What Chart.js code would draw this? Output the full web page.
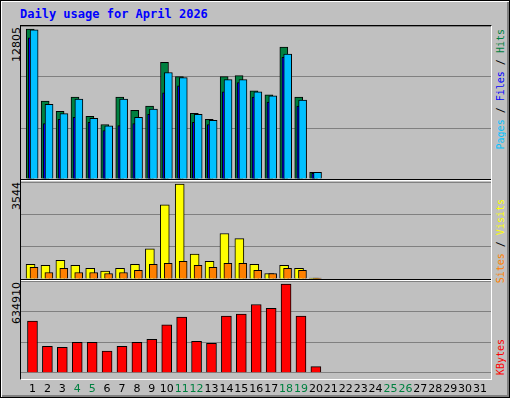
<!DOCTYPE html>
<html>
<head>
<meta charset="utf-8">
<script src="https://cdn.jsdelivr.net/npm/chart.js@4"></script>
<style>
  body { margin: 0; background: #fff; }
  #frame {
    position: absolute; left: 0; top: 0; width: 508px; height: 396px;
    background: #c0c0c0; border: 1px solid #000;
    box-shadow: inset 1px 1px 0 #fff, inset -2px -2px 0 #808080;
  }
  #box {
    position: absolute; left: 20px; top: 25px; width: 470px; height: 353px;
    border-top: 1px solid #000; border-left: 1px solid #000;
    border-right: 1px solid #fff; border-bottom: 1px solid #fff;
  }
  .div { position: absolute; left: 21px; width: 470px; height: 1px; background: #000; border-bottom: 1px solid #fff; }
  canvas { position: absolute; }
  .vt { position: absolute; writing-mode: vertical-rl; transform: rotate(180deg); white-space: nowrap; }
  #title { position: absolute; left: 20px; top: 7px; font: bold 12px "DejaVu Sans Mono", monospace; color: #0000ff; }
</style>
</head>
<body>
<div id="frame"></div>
<div id="box"></div>
<div class="div" style="top:179px"></div>
<div class="div" style="top:279px"></div>
<div id="title">Daily usage for April 2026</div>

<div class="vt" id="yTop" style="left:10px; top:27px; font:11px 'DejaVu Sans'"></div>
<div class="vt" id="yMid" style="left:10px; top:182px; font:11px 'DejaVu Sans'"></div>
<div class="vt" id="yBot" style="left:10px; top:282px; font:11px 'DejaVu Sans'"></div>

<div class="vt" style="left:495px; top:29px; font:10px 'DejaVu Sans Mono'">
  <span style="color:#00c0ff">Pages</span><span> / </span><span style="color:#0000ff">Files</span><span> / </span><span style="color:#008040">Hits</span>
</div>
<div class="vt" style="left:495px; top:199px; font:10px 'DejaVu Sans Mono'">
  <span style="color:#ff8000">Sites</span><span> / </span><span style="color:#ffff00">Visits</span>
</div>
<div class="vt" style="left:495px; top:339px; font:10px 'DejaVu Sans Mono'">
  <span style="color:#ff0000">KBytes</span>
</div>

<canvas id="cTop" style="left:21px; top:26px; width:470px; height:153px"></canvas>
<canvas id="cMid" style="left:21px; top:182px; width:470px; height:97px"></canvas>
<canvas id="cBot" style="left:21px; top:281px; width:470px; height:117px"></canvas>

<script>
// Daily stats, April 2026 (days 1..20 have data)
const days = [1,2,3,4,5,6,7,8,9,10,11,12,13,14,15,16,17,18,19,20];
const hits = [12805,6655,5785,7003,5350,4654,7003,5872,6220,9960,8743,5611,5089,8743,8830,7525,7177,11265,7003,565];
const files = [12744,6368,5585,6829,5176,4541,6829,5263,5959,9090,8656,5524,5002,8481,8481,7438,7090,10656,6742,565];
const pages = [12048,4741,5089,5263,4828,4132,4567,4741,5524,7351,7960,4828,4654,7438,8221,7003,6568,10395,6220,478];
const visits = [548,510,701,510,395,293,395,548,1122,2766,3544,931,663,1696,1504,548,204,510,395,30];
const sites = [433,242,395,242,242,204,242,319,548,586,663,510,433,586,586,319,204,395,319,30];
const kbytes = [370750,190010,183060,217820,217820,155250,190010,217820,238670,342940,398560,224770,210860,405510,419410,488930,461120,634910,405510,44030];
const dayLabels = Array.from({length: 31}, (_, i) => String(i + 1));
const weekendDays = [4,5,11,12,18,19,25,26];

document.getElementById("yTop").textContent = Math.max(...hits);
document.getElementById("yMid").textContent = Math.max(...visits);
document.getElementById("yBot").textContent = Math.max(...kbytes);

const X_MIN = 0.23, X_MAX = 31.74;

function pts(vals, off) {
    return vals.map((v, i) => ({ x: days[i] + off, y: v }));
}

function bar(label, vals, off, color, thick) {
    return {
        label: label,
        data: pts(vals, off),
        backgroundColor: color,
        borderColor: "#000",
        borderWidth: 1,
        borderSkipped: "bottom",
        barThickness: thick,
        grouped: false,
    };
}

function makeChart(id, datasets, yMax, showX) {
    return new Chart(document.getElementById(id), {
        type: "bar",
        data: { datasets: datasets },
        options: {
            responsive: false,
            animation: false,
            layout: { padding: 0 },
            plugins: { legend: { display: false }, tooltip: { enabled: false } },
            scales: {
                x: {
                    type: "linear",
                    min: X_MIN,
                    max: X_MAX,
                    offset: false,
                    display: showX,
                    grid: { display: false },
                    border: { display: false },
                    afterBuildTicks: (axis) => {
                        axis.ticks = dayLabels.map((d) => ({ value: Number(d) }));
                    },
                    ticks: {
                        autoSkip: false,
                        maxRotation: 0,
                        padding: 2,
                        font: { family: "DejaVu Sans", size: 11 },
                        color: (ctx) => weekendDays.includes(ctx.tick.value) ? "#008040" : "#000",
                        callback: (v) => String(v),
                    },
                },
                y: {
                    min: 0,
                    max: yMax,
                    display: true,
                    position: "left",
                    afterFit: (axis) => { axis.width = 0; },
                    ticks: { display: false, stepSize: yMax / 3 },
                    border: { display: false },
                    grid: { color: "#808080", lineWidth: 1, drawTicks: false },
                },
            },
        },
    });
}

// datasets drawn last-to-first, so first entry ends up on top
makeChart("cTop", [
    bar("Files", files, 0.11, "#00c0ff", 8),
    bar("Pages", pages, -0.18, "#0000ff", 3),
    bar("Hits", hits, -0.15, "#008040", 8),
], 13061, false);

makeChart("cMid", [
    bar("Sites", sites, 0.1, "#ff8000", 8),
    bar("Visits", visits, -0.13, "#ffff00", 9),
], 3619, false);

makeChart("cBot", [
    bar("KBytes", kbytes, 0, "#ff0000", 10),
], 657000, true);
</script>
</body>
</html>
